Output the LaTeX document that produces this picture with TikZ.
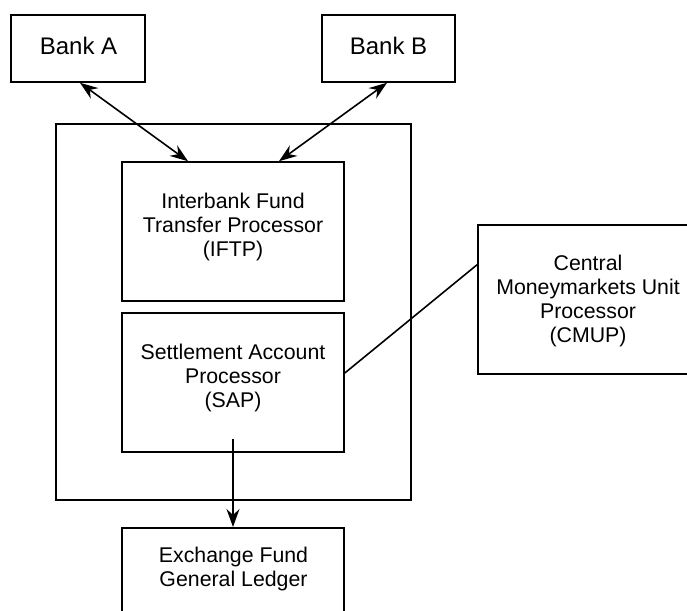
\documentclass[tikz,border=0pt]{standalone}
\usepackage{fontspec}
\setmainfont{Liberation Sans}
\usetikzlibrary{arrows.meta}
\begin{document}
\begin{tikzpicture}[x=1pt,y=-1pt,
  box/.style={draw, line width=1.6pt, inner sep=0pt},
  txt/.style={align=center, inner sep=0pt, font=\fontsize{21.3}{24.3}\selectfont},
  banktxt/.style={inner sep=0pt, font=\fontsize{24}{28}\selectfont},
  conn/.style={line width=1.6pt},
  tip/.style={-{Stealth[length=18pt,width=13pt,inset=6pt]}},
  dtip/.style={{Stealth[length=18pt,width=13pt,inset=6pt]}-{Stealth[length=18pt,width=13pt,inset=6pt]}}]
\clip (0,0) rectangle (687,610);
\fill[white] (0,0) rectangle (687,610);
% boxes
\node[box, minimum width=134pt, minimum height=67pt] (banka) at (78,48.5) {};
\node[box, minimum width=133pt, minimum height=67pt] (bankb) at (388.5,48.5) {};
\node[box, minimum width=355pt, minimum height=376pt] (outer) at (233.5,312) {};
\node[box, minimum width=222pt, minimum height=139pt] (iftp) at (233,231.5) {};
\node[box, minimum width=222pt, minimum height=139pt] (sap) at (233,382.5) {};
\node[box, minimum width=225pt, minimum height=149pt, anchor=north west] (cmup) at (477,224) {};
\node[box, minimum width=222pt, minimum height=120pt, anchor=north] (efgl) at (233,527) {};
% texts (base anchor = baseline of last line)
\node[banktxt, anchor=base] (banka-t) at (78.5,54) {Bank A};
\node[banktxt, anchor=base] (bankb-t) at (388.5,54) {Bank B};
\node[txt, anchor=base] (iftp-t) at (233,256.6) {Interbank Fund\\Transfer Processor\\(IFTP)};
\node[txt, anchor=base] (sap-t) at (233,407.6) {Settlement Account\\Processor\\(SAP)};
\node[txt, anchor=base] (cmup-t) at (588,342.9) {Central\\Moneymarkets Unit\\Processor\\(CMUP)};
\node[txt, anchor=base] (efgl-t) at (233.5,586.3) {Exchange Fund\\General Ledger};
% connectors
\draw[conn, dtip] ([xshift=2pt]banka.south) -- ([xshift=-45pt]iftp.north);
\draw[conn, dtip] ([xshift=-1.5pt]bankb.south) -- ([xshift=46pt]iftp.north);
\draw[conn] ([yshift=9.5pt]sap.east) -- ([yshift=34.5pt]cmup.west);
\coordinate (sapin) at ([yshift=-56.5pt]sap.center);
\draw[conn, tip] (sapin) -- (efgl.north);
\end{tikzpicture}
\end{document}
